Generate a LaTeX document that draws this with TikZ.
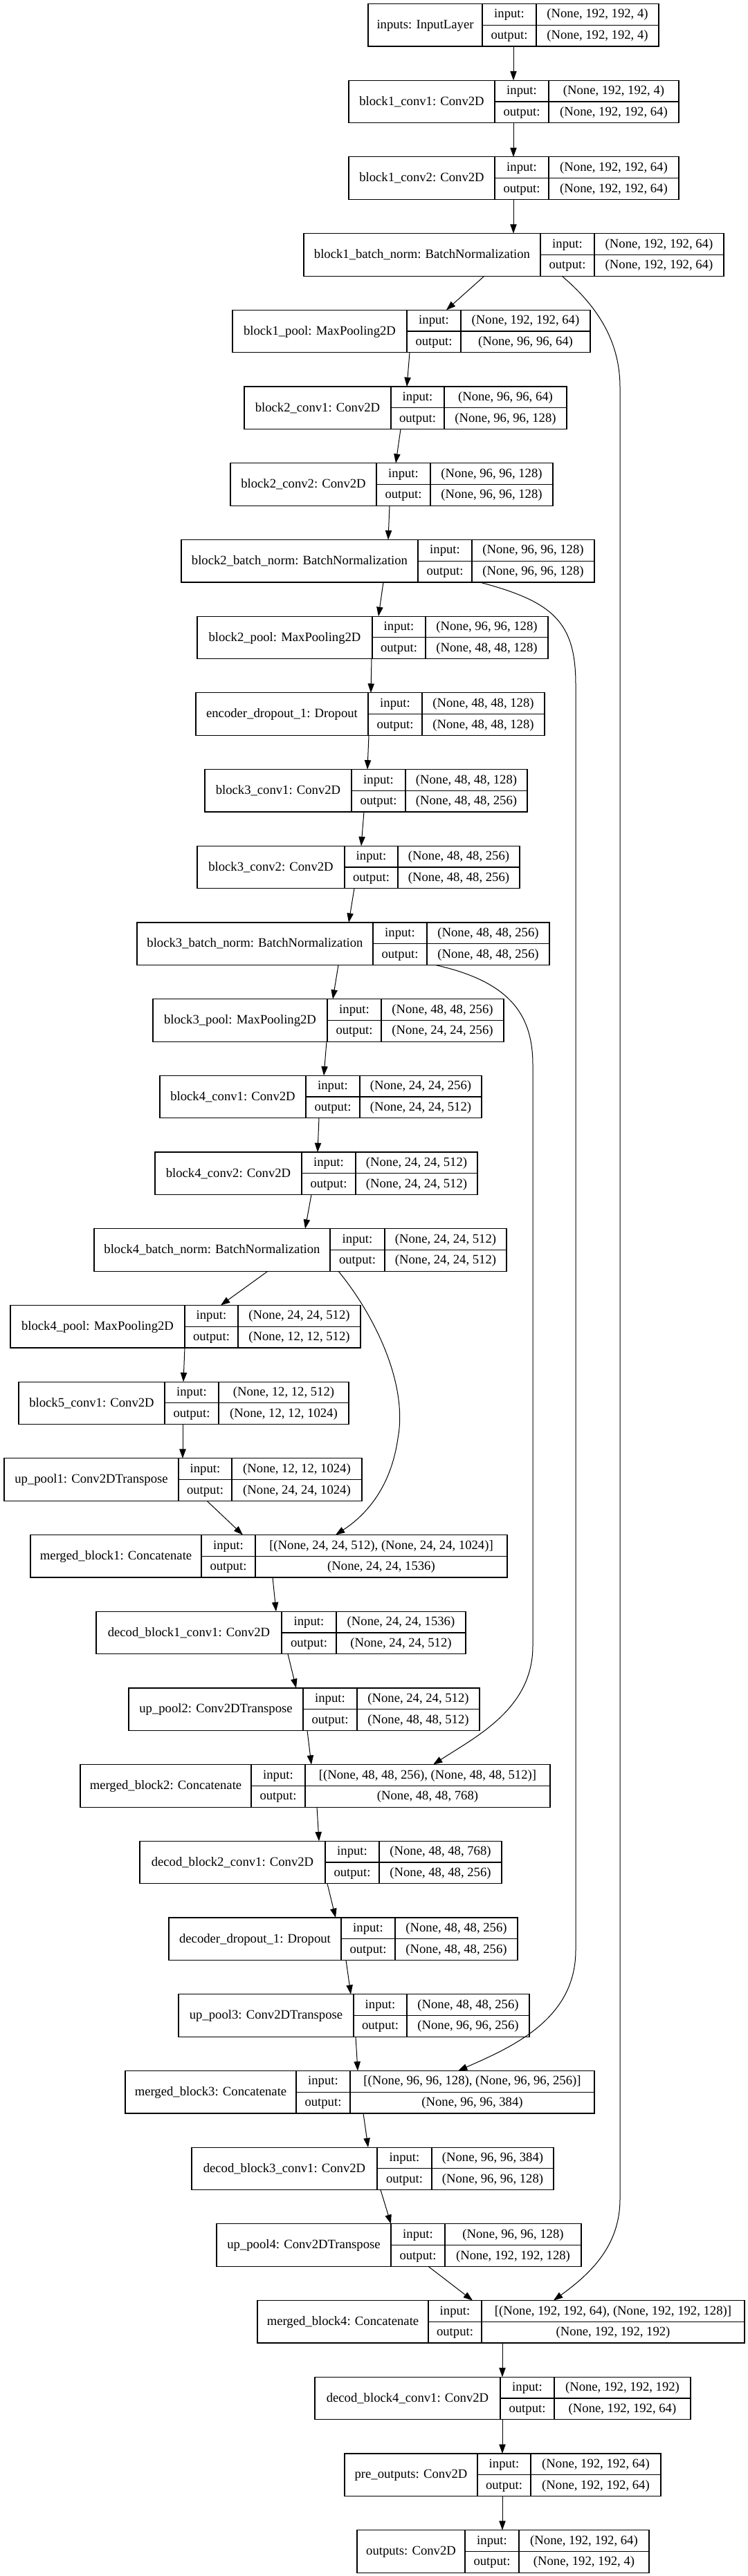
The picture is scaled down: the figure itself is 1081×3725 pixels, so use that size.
\documentclass[tikz,border=0pt]{standalone}
\usepackage{fontspec}
\setmainfont{Liberation Serif}
\usetikzlibrary{positioning,calc,arrows.meta}

\begin{document}
\begin{tikzpicture}[x=0.75pt,y=-0.75pt,font=\fontsize{14}{16}\selectfont,
  layer/.style={draw,line width=0.9pt,inner sep=0,outer sep=0,anchor=north west,minimum height=46.125pt},
  rule/.style={line width=0.9pt},
  cell/.style={inner sep=0,anchor=base},
  edge/.style={line width=0.75pt,-{Triangle[length=10pt,width=7pt]}}]
\useasboundingbox (0,0) rectangle (1081,3725);
\foreach \id/\xa/\xb/\xc/\xd/\nm/\ish/\osh [count=\r from 0] in {
inp/532/697/775/952/{inputs: InputLayer}/{(None, 192, 192, 4)}/{(None, 192, 192, 4)},
b1c1/504/715/793/981/{block1\_conv1: Conv2D}/{(None, 192, 192, 4)}/{(None, 192, 192, 64)},
b1c2/504/715/793/981/{block1\_conv2: Conv2D}/{(None, 192, 192, 64)}/{(None, 192, 192, 64)},
b1bn/439/781/859/1046/{block1\_batch\_norm: BatchNormalization}/{(None, 192, 192, 64)}/{(None, 192, 192, 64)},
b1p/336/588/666/853/{block1\_pool: MaxPooling2D}/{(None, 192, 192, 64)}/{(None, 96, 96, 64)},
b2c1/353/565/642/819/{block2\_conv1: Conv2D}/{(None, 96, 96, 64)}/{(None, 96, 96, 128)},
b2c2/333/544/622/799/{block2\_conv2: Conv2D}/{(None, 96, 96, 128)}/{(None, 96, 96, 128)},
b2bn/262/604/682/859/{block2\_batch\_norm: BatchNormalization}/{(None, 96, 96, 128)}/{(None, 96, 96, 128)},
b2p/285/538/615/792/{block2\_pool: MaxPooling2D}/{(None, 96, 96, 128)}/{(None, 48, 48, 128)},
edrop/283/532/610/787/{encoder\_dropout\_1: Dropout}/{(None, 48, 48, 128)}/{(None, 48, 48, 128)},
b3c1/296/508/586/762/{block3\_conv1: Conv2D}/{(None, 48, 48, 128)}/{(None, 48, 48, 256)},
b3c2/285/498/575/751/{block3\_conv2: Conv2D}/{(None, 48, 48, 256)}/{(None, 48, 48, 256)},
b3bn/198/539/617/794/{block3\_batch\_norm: BatchNormalization}/{(None, 48, 48, 256)}/{(None, 48, 48, 256)},
b3p/221/473/551/728/{block3\_pool: MaxPooling2D}/{(None, 48, 48, 256)}/{(None, 24, 24, 256)},
b4c1/231/442/520/696/{block4\_conv1: Conv2D}/{(None, 24, 24, 256)}/{(None, 24, 24, 512)},
b4c2/224/436/514/690/{block4\_conv2: Conv2D}/{(None, 24, 24, 512)}/{(None, 24, 24, 512)},
b4bn/136/477/556/732/{block4\_batch\_norm: BatchNormalization}/{(None, 24, 24, 512)}/{(None, 24, 24, 512)},
b4p/15/267/344/521/{block4\_pool: MaxPooling2D}/{(None, 24, 24, 512)}/{(None, 12, 12, 512)},
b5c1/27/238/316/504/{block5\_conv1: Conv2D}/{(None, 12, 12, 512)}/{(None, 12, 12, 1024)},
up1/6/258/335/523/{up\_pool1: Conv2DTranspose}/{(None, 12, 12, 1024)}/{(None, 24, 24, 1024)},
m1/44/291/369/733/{merged\_block1: Concatenate}/{[(None, 24, 24, 512), (None, 24, 24, 1024)]}/{(None, 24, 24, 1536)},
d1c1/139/407/486/673/{decod\_block1\_conv1: Conv2D}/{(None, 24, 24, 1536)}/{(None, 24, 24, 512)},
up2/186/438/516/693/{up\_pool2: Conv2DTranspose}/{(None, 24, 24, 512)}/{(None, 48, 48, 512)},
m2/116/363/441/795/{merged\_block2: Concatenate}/{[(None, 48, 48, 256), (None, 48, 48, 512)]}/{(None, 48, 48, 768)},
d2c1/202/470/548/725/{decod\_block2\_conv1: Conv2D}/{(None, 48, 48, 768)}/{(None, 48, 48, 256)},
ddrop/244/493/571/748/{decoder\_dropout\_1: Dropout}/{(None, 48, 48, 256)}/{(None, 48, 48, 256)},
up3/258/511/588/765/{up\_pool3: Conv2DTranspose}/{(None, 48, 48, 256)}/{(None, 96, 96, 256)},
m3/181/428/506/859/{merged\_block3: Concatenate}/{[(None, 96, 96, 128), (None, 96, 96, 256)]}/{(None, 96, 96, 384)},
d3c1/277/545/624/800/{decod\_block3\_conv1: Conv2D}/{(None, 96, 96, 384)}/{(None, 96, 96, 128)},
up4/313/565/643/840/{up\_pool4: Conv2DTranspose}/{(None, 96, 96, 128)}/{(None, 192, 192, 128)},
m4/372/619/696/1076/{merged\_block4: Concatenate}/{[(None, 192, 192, 64), (None, 192, 192, 128)]}/{(None, 192, 192, 192)},
d4c1/455/723/801/998/{decod\_block4\_conv1: Conv2D}/{(None, 192, 192, 192)}/{(None, 192, 192, 64)},
pre/498/690/767/955/{pre\_outputs: Conv2D}/{(None, 192, 192, 64)}/{(None, 192, 192, 64)},
out/516/672/750/938/{outputs: Conv2D}/{(None, 192, 192, 64)}/{(None, 192, 192, 4)}}{
  \pgfmathsetmacro\ytop{5.5+110.7*\r}
  \node[layer,minimum width={(\xd-\xa)*0.75pt}] (\id) at (\xa,\ytop) {};
  \draw[rule] (\xb,\ytop) -- ++(0,61.5) (\xc,\ytop) -- ++(0,61.5) (\xb,\ytop+30.75) -- (\xd,\ytop+30.75);
  \node[cell] at ({(\xa+\xb)/2},\ytop+36) {\nm};
  \node[cell] at ({(\xb+\xc)/2},\ytop+20.5) {input:};
  \node[cell] at ({(\xb+\xc)/2},\ytop+51.2) {output:};
  \node[cell] at ({(\xc+\xd)/2},\ytop+20.5) {\ish};
  \node[cell] at ({(\xc+\xd)/2},\ytop+51.2) {\osh};
}
\foreach \s/\sx/\h/\hx in {inp/742/b1c1/742,b1c1/742/b1c2/742,b1c2/742/b1bn/742,b1bn/700/b1p/645,
  b1p/592/b2c1/588,b2c1/579/b2c2/572,b2c2/563/b2bn/561,b2bn/554/b2p/547,b2p/537/edrop/536,
  edrop/533/b3c1/531,b3c1/526/b3c2/522,b3c2/512/b3bn/504,b3bn/489/b3p/481,b3p/472/b4c1/468,
  b4c1/461/b4c2/459,b4c2/450/b4bn/441,b4bn/387/b4p/319,b4p/267/b5c1/265,b5c1/264/up1/264,
  up1/299/m1/351,m1/394/d1c1/399,d1c1/416/up2/428,up2/444/m2/450,m2/458/d2c1/461,
  d2c1/473/ddrop/485,ddrop/500/up3/507,up3/514/m3/517,m3/525/d3c1/532,d3c1/550/up4/565,
  up4/619/m4/683,m4/726/d4c1/726,d4c1/726/pre/726,pre/726/out/726}{
  \coordinate (tl) at (\sx,0);
  \coordinate (hd) at (\hx,0);
  \draw[edge] (\s.south -| tl) -- (\h.north -| hd);
}
\coordinate (s1) at (812,0);
\coordinate (e1) at (800,0);
\coordinate (s2) at (693,0);
\coordinate (e2) at (662,0);
\coordinate (s3) at (629,0);
\coordinate (e3) at (626,0);
\coordinate (s4) at (489,0);
\coordinate (e4) at (485,0);
\draw[edge] (b1bn.south -| s1) .. controls (860,440) and (896,490) .. (896,560) -- (896,3180)
  .. controls (896,3250) and (850,3290) .. (m4.north -| e1);
\draw[edge] (b2bn.south -| s2) .. controls (800,870) and (832,900) .. (832,990) -- (832,2820)
  .. controls (832,2920) and (740,2960) .. (m3.north -| e2);
\draw[edge] (b3bn.south -| s3) .. controls (740,1420) and (770,1470) .. (770,1540) -- (770,2380)
  .. controls (770,2470) and (690,2510) .. (m2.north -| e3);
\draw[edge] (b4bn.south -| s4) .. controls (540,1900) and (590,2000) .. (575,2080)
  .. controls (565,2150) and (530,2190) .. (m1.north -| e4);
\end{tikzpicture}
\end{document}
